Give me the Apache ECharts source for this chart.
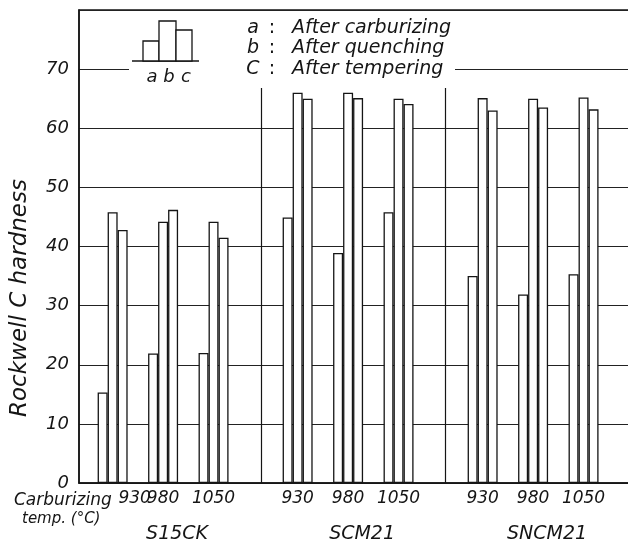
<!DOCTYPE html>
<html>
<head>
<meta charset="utf-8">
<script src="https://cdn.jsdelivr.net/npm/echarts@6/dist/echarts.min.js"></script>
<style>html,body{margin:0;padding:0;background:#fff}#c{width:628px;height:545px}</style>
</head>
<body>
<div id="c"></div>
<script>
// ---- data ----
const steels = ['S15CK', 'SCM21', 'SNCM21'];
const temps = ['930', '980', '1050'];
const afterCarburizing = [15.3, 21.9, 22.0, 44.9, 38.9, 45.8, 35.0, 31.9, 35.3];
const afterQuenching   = [45.8, 44.2, 44.2, 66.0, 66.0, 65.0, 65.1, 65.0, 65.2];
const afterTempering   = [42.8, 46.2, 41.5, 65.0, 65.1, 64.1, 63.0, 63.5, 63.2];
const yTickValues = [0, 10, 20, 30, 40, 50, 60, 70];
const legendKeys = ['a', 'b', 'C'];
const legendTexts = ['After carburizing', 'After quenching', 'After tempering'];
const insetLabels = ['a', 'b', 'c'];
const xAxisTitle = ['Carburizing', 'temp. (°C)'];
const yAxisTitle = 'Rockwell C hardness';

// ---- layout of category slots (spacing only) ----
const leadSlots = 2, groupStep = 3, steelGap = 5, totalSlots = 34;
const groupSlots = [];
let p = leadSlots;
for (let s = 0; s < steels.length; s++) {
  for (let t = 0; t < temps.length; t++) {
    groupSlots.push(p);
    p += (t < temps.length - 1) ? groupStep : steelGap;
  }
}
const slotIds = Array.from({length: totalSlots}, (_, i) => 'slot' + i);
function spread(arr) {
  const out = Array(totalSlots).fill('-');
  groupSlots.forEach((s, k) => { out[s] = arr[k]; });
  return out;
}
// separators between steels, in slot units
const separators = [10.82, 21.79];
const separatorTop = 66.8;

const FONT = 'DejaVu Sans';
const INK = '#151515';

const chart = echarts.init(document.getElementById('c'), null, {renderer: 'canvas'});

const barStyle = {color: '#fff', borderColor: INK, borderWidth: 1.3};

const graphics = [
  // white backing for the legend area (interrupts 70 gridline)
  {type: 'rect', z: 50, shape: {x: 129, y: 14, width: 326, height: 68}, style: {fill: '#fff'}},
  // inset mini bar diagram
  {type: 'line', z: 51, shape: {x1: 132, y1: 61, x2: 199, y2: 61}, style: {stroke: INK, lineWidth: 1.3}},
  {type: 'rect', z: 51, shape: {x: 143, y: 41, width: 16, height: 20}, style: {fill: '#fff', stroke: INK, lineWidth: 1.3}},
  {type: 'rect', z: 51, shape: {x: 159, y: 21, width: 17, height: 40}, style: {fill: '#fff', stroke: INK, lineWidth: 1.3}},
  {type: 'rect', z: 51, shape: {x: 176, y: 30, width: 16, height: 31}, style: {fill: '#fff', stroke: INK, lineWidth: 1.3}}
];
insetLabels.forEach((t, i) => {
  graphics.push({type: 'text', z: 52, x: 152 + i * 17, y: 77,
    style: {text: t, fontSize: 18, fontStyle: 'italic', fontFamily: FONT, fill: INK, align: 'center', verticalAlign: 'middle'}});
});
legendKeys.forEach((k, i) => {
  const y = 28 + i * 20.5;
  graphics.push({type: 'text', z: 52, x: 253, y: y,
    style: {text: k, fontSize: 19, fontStyle: 'italic', fontFamily: FONT, fill: INK, align: 'center', verticalAlign: 'middle'}});
  graphics.push({type: 'text', z: 52, x: 272, y: y,
    style: {text: ':', fontSize: 19, fontFamily: FONT, fill: INK, align: 'center', verticalAlign: 'middle'}});
  graphics.push({type: 'text', z: 52, x: 292, y: y,
    style: {text: legendTexts[i], fontSize: 19, fontStyle: 'italic', fontFamily: FONT, fill: INK, align: 'left', verticalAlign: 'middle'}});
});
graphics.push({type: 'text', z: 52, x: 20, y: 298, rotation: Math.PI / 2,
  style: {text: yAxisTitle, fontSize: 23, fontStyle: 'italic', fontFamily: FONT, fill: INK, align: 'center', verticalAlign: 'middle'}});
graphics.push({type: 'text', z: 52, x: 14, y: 501,
  style: {text: xAxisTitle[0], fontSize: 17, fontStyle: 'italic', fontFamily: FONT, fill: INK, align: 'left', verticalAlign: 'middle'}});
graphics.push({type: 'text', z: 52, x: 22, y: 519,
  style: {text: xAxisTitle[1], fontSize: 15, fontStyle: 'italic', fontFamily: FONT, fill: INK, align: 'left', verticalAlign: 'middle'}});

const option = {
  backgroundColor: '#fff',
  animation: false,
  grid: {left: 79, top: 10, width: 555, height: 473, show: true, borderColor: INK, borderWidth: 1.5,
         backgroundColor: 'transparent', outerBoundsMode: 'none', containLabel: false},
  xAxis: [
    {
      type: 'category', data: slotIds, boundaryGap: false,
      axisLine: {show: true, lineStyle: {color: INK, width: 1.5}},
      axisTick: {show: false}, splitLine: {show: false},
      axisLabel: {
        interval: 0, margin: 6, fontSize: 17, fontStyle: 'italic', fontFamily: FONT, color: INK, lineHeight: 20,
        hideOverlap: false,
        formatter: function (v, idx) {
          const g = groupSlots.indexOf(idx);
          if (g < 0) return '';
          const t = temps[g % temps.length];
          const s = Math.floor(g / temps.length);
          if (g === 0) return '{o|' + t + '}';
          if (g % temps.length === 1) return t + '\n{s|' + steels[s] + '}';
          return t;
        },
        rich: {
          o: {fontSize: 17, fontStyle: 'italic', fontFamily: FONT, color: INK, lineHeight: 20, padding: [0, 0, 0, 44]},
          s: {fontSize: 19, fontStyle: 'italic', fontFamily: FONT, color: INK, lineHeight: 50, padding: [0, 0, 0, 28]}
        }
      }
    },
    {
      type: 'value', min: 0, max: totalSlots - 1, show: false
    }
  ],
  yAxis: {
    type: 'value', min: 0, max: 80, interval: 10,
    axisLine: {show: true, lineStyle: {color: INK, width: 1.5}},
    axisTick: {show: false},
    splitLine: {show: true, lineStyle: {color: '#222', width: 1}},
    axisLabel: {
      margin: 10, fontSize: 18, fontStyle: 'italic', fontFamily: FONT, color: INK,
      formatter: v => (yTickValues.indexOf(v) >= 0 ? String(v) : '')
    }
  },
  graphic: graphics,
  series: [
    {name: 'a', type: 'bar', xAxisIndex: 0, data: spread(afterCarburizing), barWidth: 10, barGap: '0%', itemStyle: barStyle, z: 3},
    {name: 'b', type: 'bar', xAxisIndex: 0, data: spread(afterQuenching), barWidth: 10, barGap: '0%', itemStyle: barStyle, z: 3},
    {name: 'c', type: 'bar', xAxisIndex: 0, data: spread(afterTempering), barWidth: 10, barGap: '0%', itemStyle: barStyle, z: 3},
    {
      name: 'sep', type: 'line', xAxisIndex: 1, data: [], silent: true,
      markLine: {
        silent: true, symbol: ['none', 'none'], label: {show: false},
        lineStyle: {color: INK, width: 1.2, type: 'solid'},
        data: separators.map(x => [{coord: [x, 0]}, {coord: [x, separatorTop]}])
      }
    }
  ]
};
chart.setOption(option);
</script>
</body>
</html>
